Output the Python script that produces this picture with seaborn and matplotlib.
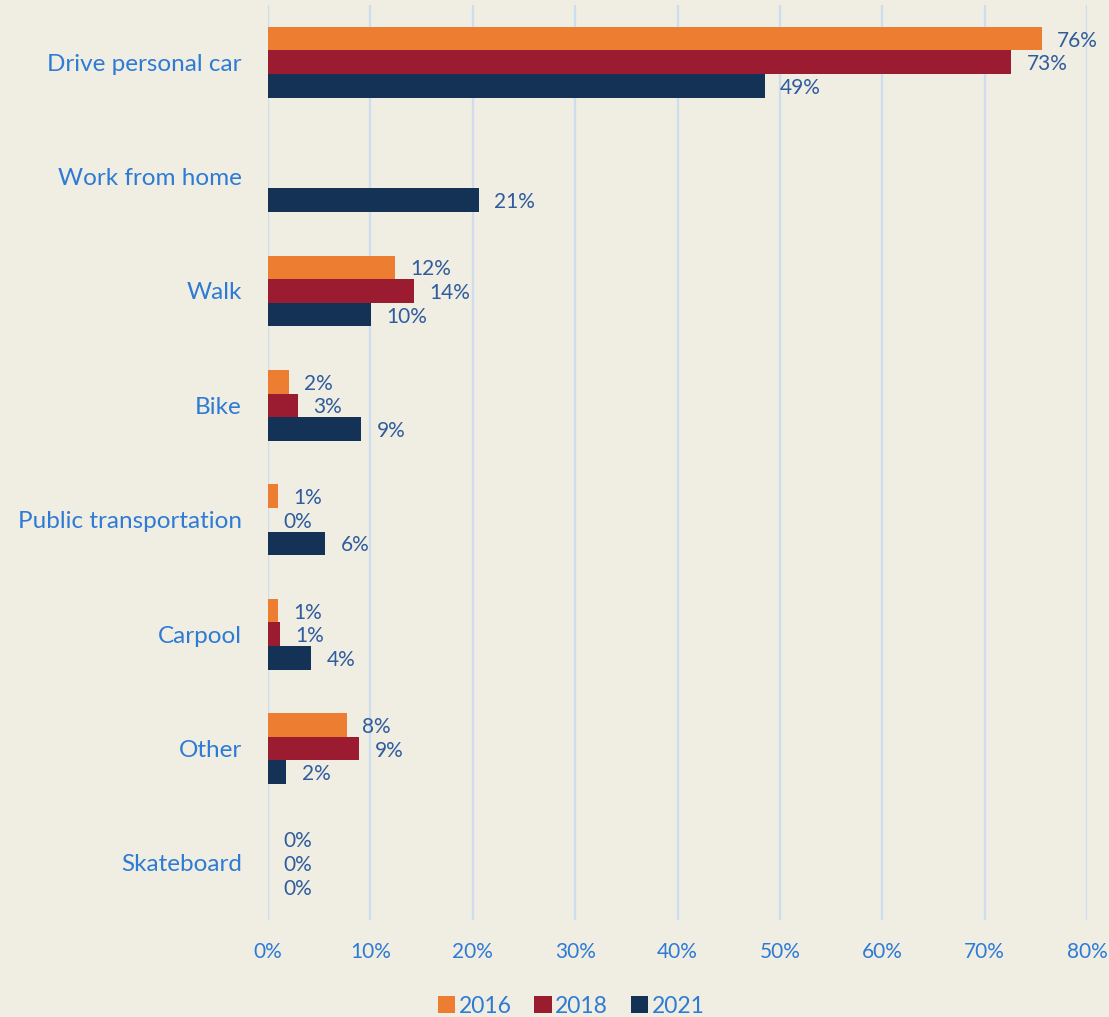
import numpy as np
import pandas as pd
import seaborn as sns
import matplotlib.pyplot as plt
from matplotlib.patches import Patch

categories = ["Drive personal car", "Work from home", "Walk", "Bike",
              "Public transportation", "Carpool", "Other", "Skateboard"]
years = ["2016", "2018", "2021"]
share_2016 = [75.6, np.nan, 12.4, 2.0, 1.0, 1.0, 7.7, 0.0]
share_2018 = [72.6, np.nan, 14.3, 2.9, 0.0, 1.2, 8.9, 0.0]
share_2021 = [48.5, 20.6, 10.1, 9.1, 5.6, 4.2, 1.8, 0.0]
labels_2016 = ["76%", None, "12%", "2%", "1%", "1%", "8%", "0%"]
labels_2018 = ["73%", None, "14%", "3%", "0%", "1%", "9%", "0%"]
labels_2021 = ["49%", "21%", "10%", "9%", "6%", "4%", "2%", "0%"]
x_ticks = [0, 10, 20, 30, 40, 50, 60, 70, 80]

colors = ["#ED7D31", "#9B1C31", "#133256"]
bg = "#F0EDE2"
cat_color = "#2E7BD6"
val_color = "#2F5C9E"

df = pd.DataFrame({
    "mode": categories * 3,
    "year": sum([[y] * len(categories) for y in years], []),
    "share": share_2016 + share_2018 + share_2021,
    "label": labels_2016 + labels_2018 + labels_2021,
})

sns.set_theme(style="white")
plt.rcParams["font.family"] = ["Lato", "DejaVu Sans"]

fig = plt.figure(figsize=(11.09, 10.17), dpi=100, facecolor=bg)
ax = fig.add_axes([0.2417, 0.0954, 0.7385, 0.8996])
ax.set_facecolor(bg)

sns.barplot(data=df.dropna(subset=["share"]), x="share", y="mode", hue="year",
            order=categories, hue_order=years, palette=colors, saturation=1,
            orient="h", width=0.62, linewidth=0, legend=False, ax=ax, zorder=3)

# value labels next to each bar end
bw = 0.62 / 3
for j, yr in enumerate(years):
    sub = df[df["year"] == yr]
    for i, (val, lab) in enumerate(zip(sub["share"], sub["label"])):
        if lab is None:
            continue
        yc = i - 0.31 + bw * (j + 0.5)
        ax.annotate(lab, xy=(val, yc), xytext=(11, -1.5), textcoords="offset points",
                    ha="left", va="center", fontsize=15, color=val_color)

ax.set_xlim(0, 80)
ax.set_ylim(len(categories) - 0.5, -0.5)
ax.set_xticks(x_ticks)
ax.set_xticklabels([f"{t}%" for t in x_ticks])
ax.set_xlabel("")
ax.set_ylabel("")
ax.grid(axis="x", color="#CBDDEF", linewidth=1.6, zorder=0)
ax.grid(axis="y", visible=False)
for s in ax.spines.values():
    s.set_visible(False)
ax.tick_params(axis="x", length=0, pad=16, labelsize=15, labelcolor=cat_color)
ax.tick_params(axis="y", length=0, pad=19, labelsize=17.5, labelcolor=cat_color)

handles = [Patch(facecolor=c, edgecolor="none", label=y) for c, y in zip(colors, years)]
fig.legend(handles=handles, loc="lower center", bbox_to_anchor=(0.515, -0.02), ncol=3,
           frameon=False, fontsize=16.5, labelcolor=cat_color, handlelength=0.75,
           handleheight=0.75, handletextpad=0.15, columnspacing=1.0)

fig.savefig("out.png", dpi=100, facecolor=bg)
